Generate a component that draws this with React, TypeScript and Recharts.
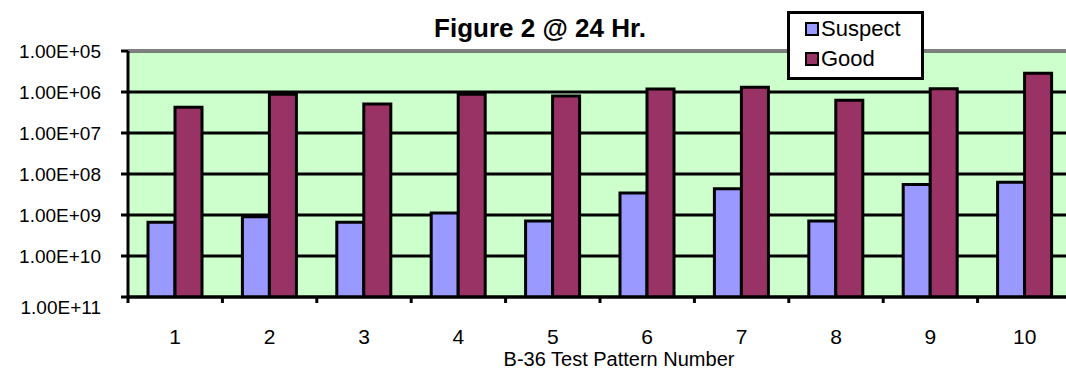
import React from "react"
import { BarChart, Bar, XAxis, YAxis, CartesianGrid, ReferenceLine } from "recharts"

const patterns = ["1", "2", "3", "4", "5", "6", "7", "8", "9", "10"]
const suspect = [1.5e9, 1.1e9, 1.5e9, 8.9e8, 1.4e9, 2.9e8, 2.3e8, 1.4e9, 1.8e8, 1.6e8]
const good = [2.35e6, 1.14e6, 1.95e6, 1.14e6, 1.25e6, 8.5e5, 7.7e5, 1.6e6, 8.3e5, 3.5e5]
const yTicks = [1e5, 1e6, 1e7, 1e8, 1e9, 1e10, 1e11]
const seriesNames = ["Suspect", "Good"]
const seriesColors = ["#9999FF", "#993366"]

const AXIS_FLOOR = 1e11
const FONT = '"Liberation Sans", Arial, sans-serif'

// bars hang from the bottom of the reversed axis, so give them a range
const data = patterns.map((p, i) => ({
  pattern: p,
  suspect: [AXIS_FLOOR, suspect[i]],
  good: [AXIS_FLOOR, good[i]],
}))

function fmtSci(v: number) {
  const exp = Math.round(Math.log10(v))
  return `1.00E+${String(exp).padStart(2, "0")}`
}

function YTick(props: any) {
  const { x, y, payload } = props
  const shift = payload.value === AXIS_FLOOR ? 10 : 0
  return (
    <text x={x} y={y + shift} dy="0.35em" textAnchor="end" fontSize={19} fontFamily={FONT} fill="#000">
      {fmtSci(payload.value)}
    </text>
  )
}

function XTick(props: any) {
  const { x, y, payload, index, visibleTicksCount } = props
  const off = payload?.offset ?? 0
  const isLast = index === visibleTicksCount - 1
  return (
    <g>
      <line x1={x - off} x2={x - off} y1={y - 6} y2={y} stroke="#000" strokeWidth={3} />
      {isLast && <line x1={x + off} x2={x + off} y1={y - 6} y2={y} stroke="#000" strokeWidth={3} />}
      <text x={x} y={y + 41} textAnchor="middle" fontSize={21} fontFamily={FONT} fill="#000">
        {payload.value}
      </text>
    </g>
  )
}

export default function App() {
  return (
    <div
      style={{
        position: "absolute",
        left: 0,
        top: 0,
        width: 1066,
        height: 372,
        overflow: "hidden",
        background: "#fff",
        fontFamily: FONT,
      }}
    >
      <BarChart
        width={1090}
        height={372}
        data={data}
        margin={{ top: 51, right: 18, bottom: 25, left: 8 }}
        barGap={0}
      >
        <CartesianGrid vertical={false} stroke="#000" strokeWidth={3} fill="#CCFFCC" fillOpacity={1} />
        <XAxis
          dataKey="pattern"
          interval={0}
          height={50}
          tickSize={6}
          tickMargin={0}
          tickLine={false}
          axisLine={{ stroke: "#000", strokeWidth: 3 }}
          tick={(p: any) => <XTick {...p} />}
          label={{
            value: "B-36 Test Pattern Number",
            position: "bottom",
            offset: 5,
            dx: 19,
            fill: "#000",
            fontSize: 20,
            fontFamily: FONT,
          }}
        />
        <YAxis
          type="number"
          scale="log"
          domain={[1e5, 1e11]}
          reversed
          allowDataOverflow
          ticks={yTicks}
          interval={0}
          width={120}
          tickSize={7}
          tickMargin={20}
          axisLine={{ stroke: "#000", strokeWidth: 3 }}
          tickLine={{ stroke: "#000", strokeWidth: 3 }}
          tick={(p: any) => <YTick {...p} />}
        />
        <ReferenceLine y={1e5} stroke="#808080" strokeWidth={3} />
        <Bar
          dataKey="suspect"
          name={seriesNames[0]}
          fill={seriesColors[0]}
          stroke="#000"
          strokeWidth={3}
          barSize={27}
          isAnimationActive={false}
        />
        <Bar
          dataKey="good"
          name={seriesNames[1]}
          fill={seriesColors[1]}
          stroke="#000"
          strokeWidth={3}
          barSize={27}
          isAnimationActive={false}
        />
      </BarChart>

      <div
        style={{
          position: "absolute",
          left: 340,
          top: 15,
          width: 400,
          textAlign: "center",
          fontWeight: "bold",
          fontSize: 26,
          lineHeight: "26px",
          color: "#000",
        }}
      >
        Figure 2 @ 24 Hr.
      </div>

      <div
        style={{
          position: "absolute",
          left: 787,
          top: 11,
          width: 137,
          height: 69,
          boxSizing: "border-box",
          border: "3px solid #000",
          background: "#fff",
          paddingLeft: 15,
        }}
      >
        {seriesNames.map((name, i) => (
          <div key={name} style={{ display: "flex", alignItems: "center", height: 30 }}>
            <span
              style={{
                display: "inline-block",
                width: 14,
                height: 14,
                boxSizing: "border-box",
                border: "2px solid #000",
                background: seriesColors[i],
                marginRight: 2,
              }}
            />
            <span style={{ fontSize: 22, lineHeight: "22px", color: "#000" }}>{name}</span>
          </div>
        ))}
      </div>
    </div>
  )
}
